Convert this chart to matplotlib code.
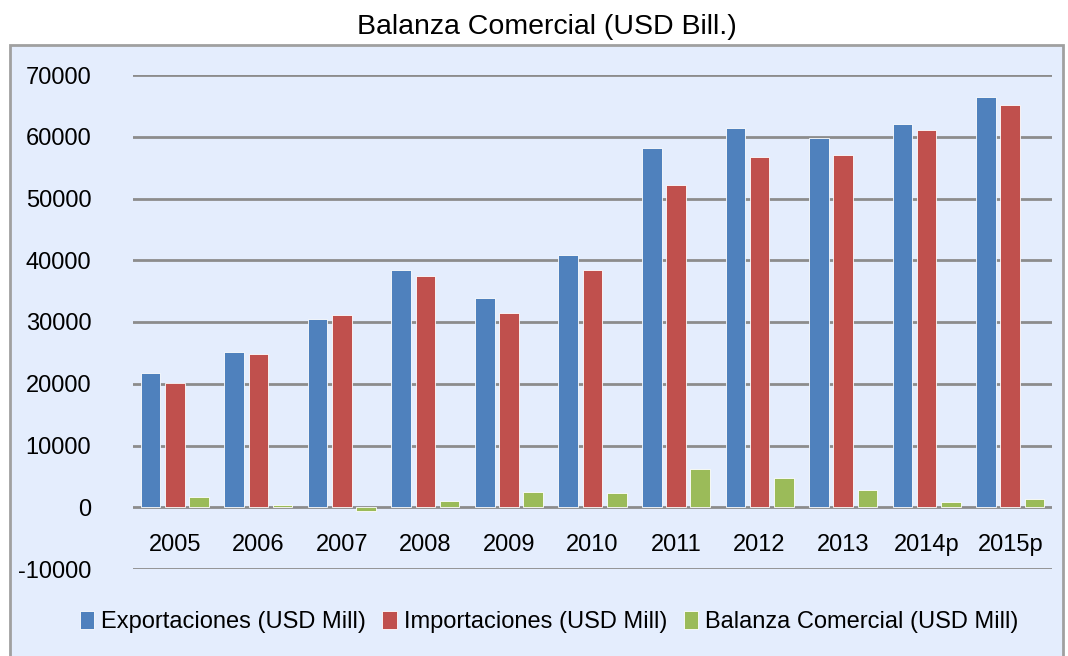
import matplotlib.pyplot as plt
from matplotlib.patches import Rectangle
import numpy as np

# values (USD Mill)
years = ['2005', '2006', '2007', '2008', '2009', '2010', '2011',
         '2012', '2013', '2014p', '2015p']
exportaciones = [21700, 25100, 30500, 38450, 33900, 40800, 58200,
                 61400, 59850, 62000, 66450]
importaciones = [20100, 24800, 31100, 37500, 31400, 38350, 52200,
                 56700, 57000, 61100, 65100]
balanza = [1620, 300, -600, 970, 2540, 2380, 6160,
           4750, 2760, 920, 1400]

series = [
    ('Exportaciones (USD Mill)', exportaciones, '#4F81BD'),
    ('Importaciones (USD Mill)', importaciones, '#C0504D'),
    ('Balanza Comercial (USD Mill)', balanza, '#9BBB59'),
]

bg = '#E4EDFD'
plt.rcParams['font.family'] = ['Liberation Sans', 'DejaVu Sans']
plt.rcParams['axes.unicode_minus'] = False

fig = plt.figure(figsize=(10.68, 6.56), dpi=100)
fig.patch.set_facecolor('white')

# light blue framed chart area (drawn under the axes)
W, H = 1068.0, 656.0
frame = Rectangle((10 / W, -0.05), (1063 - 10) / W, 1.05 - 45 / H,
                  transform=fig.transFigure, facecolor=bg,
                  edgecolor='#A0A0A0', linewidth=2, zorder=-5)
fig.patches.append(frame)

fig.text(547 / W, 1 - 27 / H, 'Balanza Comercial (USD Bill.)',
         ha='center', va='center', fontsize=20.5, color='black')

ax = fig.add_axes([133 / W, 1 - 569 / H, (1052 - 133) / W, (569 - 75) / H])
ax.set_facecolor('none')
ax.set_zorder(1)

x = np.arange(len(years))
width = 0.235
offsets = [-0.29, 0.0, 0.29]
for (label, vals, color), off in zip(series, offsets):
    ax.bar(x + off, vals, width, color=color, label=label,
           edgecolor='white', linewidth=0.6, zorder=3)

ax.set_xlim(-0.5, len(years) - 0.5)
ax.set_ylim(-10000, 70000)
ax.set_yticks(np.arange(-10000, 70001, 10000))
ax.yaxis.grid(True, color='#8C8C8C', linewidth=2, zorder=1)
ax.set_axisbelow(True)

for s in ['top', 'right', 'left']:
    ax.spines[s].set_visible(False)
ax.spines['bottom'].set_position(('data', 0))
ax.spines['bottom'].set_color('none')

ax.set_xticks(x)
ax.set_xticklabels(years)
ax.tick_params(axis='x', length=0, pad=19, labelsize=17)
ax.tick_params(axis='y', length=0, pad=30, labelsize=17)

handles, labels = ax.get_legend_handles_labels()
fig.legend(handles, labels, loc='center', bbox_to_anchor=(549 / W, 1 - 622 / H),
           ncol=3, frameon=False, fontsize=17, handlelength=0.6,
           handleheight=0.8, handletextpad=0.3, columnspacing=0.7)

fig.savefig('out.png', dpi=100, facecolor=fig.get_facecolor())
